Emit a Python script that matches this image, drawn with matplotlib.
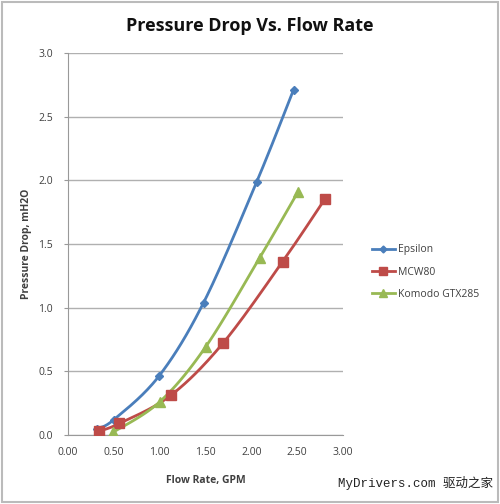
import numpy as np
import matplotlib
matplotlib.use("Agg")
import matplotlib.pyplot as plt
from matplotlib.patches import Rectangle

plt.rcParams['font.family'] = ['Open Sans', 'DejaVu Sans']

# data
epsilon_x = [0.32, 0.50, 0.99, 1.48, 2.06, 2.46]
epsilon_y = [0.05, 0.12, 0.46, 1.04, 1.99, 2.71]
mcw80_x = [0.34, 0.56, 1.12, 1.69, 2.34, 2.80]
mcw80_y = [0.03, 0.09, 0.31, 0.72, 1.36, 1.85]
komodo_x = [0.49, 1.00, 1.50, 2.09, 2.51]
komodo_y = [0.02, 0.26, 0.69, 1.39, 1.91]

series_names = ["Epsilon", "MCW80", "Komodo GTX285"]
x_ticks = [0.0, 0.5, 1.0, 1.5, 2.0, 2.5, 3.0]
y_ticks = [0.0, 0.5, 1.0, 1.5, 2.0, 2.5, 3.0]


# Excel-style smoothed line (Catmull-Rom through the points)
def smooth(xs, ys, n=30):
    p = np.column_stack([xs, ys])
    p = np.vstack([p[0], p, p[-1]])
    out = []
    for i in range(1, len(p) - 2):
        p0, p1, p2, p3 = p[i - 1], p[i], p[i + 1], p[i + 2]
        t = np.linspace(0, 1, n)[:, None]
        c = 0.5 * ((2 * p1) + (-p0 + p2) * t + (2 * p0 - 5 * p1 + 4 * p2 - p3) * t**2
                   + (-p0 + 3 * p1 - 3 * p2 + p3) * t**3)
        out.append(c)
    c = np.vstack(out)
    return c[:, 0], c[:, 1]


fig = plt.figure(figsize=(5, 5.04), dpi=100)
ax = fig.add_axes([0.136, 0.137, 0.55, 0.758])

colors = ["#4A7EBB", "#BE4B48", "#98B954"]
markers = ["D", "s", "^"]
msizes = [4.5, 6.5, 6.5]
data = [(epsilon_x, epsilon_y), (mcw80_x, mcw80_y), (komodo_x, komodo_y)]

for (xs, ys), name, col, mk, ms in zip(data, series_names, colors, markers, msizes):
    sx, sy = smooth(xs, ys)
    ax.plot(sx, sy, color=col, lw=2.0, zorder=3)
    ax.plot(xs, ys, ls="none", marker=mk, ms=ms, color=col, zorder=4)
    ax.plot([], [], color=col, lw=2.0, marker=mk, ms=ms - 1, label=name)

ax.set_xlim(0, 3)
ax.set_ylim(0, 3)
ax.set_xticks(x_ticks)
ax.set_xticklabels(["%.2f" % v for v in x_ticks])
ax.set_yticks(y_ticks)
ax.set_yticklabels(["%.1f" % v for v in y_ticks])
ax.grid(axis="y", color="#B0B0B0", lw=1.0)
ax.set_axisbelow(True)
for s in ["top", "right"]:
    ax.spines[s].set_visible(False)
for s in ["left", "bottom"]:
    ax.spines[s].set_color("#999999")
ax.tick_params(axis="both", labelsize=7.5, colors="#404040", length=3, color="#999999")
ax.tick_params(axis="x", length=0, pad=9)
ax.tick_params(axis="y", pad=8)

ax.set_xlabel("Flow Rate, GPM", fontsize=7.5, fontweight="bold", color="#404040", labelpad=12)
ax.set_ylabel("Pressure Drop, mH2O", fontsize=7.5, fontweight="bold", color="#404040", labelpad=4)

fig.text(0.5, 0.948, "Pressure Drop Vs. Flow Rate", ha="center", va="center",
         fontsize=13, fontweight="bold", color="#111111")

fig.legend(loc="center left", bbox_to_anchor=(0.725, 0.46), frameon=False,
           fontsize=7.5, handlelength=2.2, labelspacing=1.1, handletextpad=0.3,
           labelcolor="#404040")

fig.text(0.985, 0.042, "MyDrivers.com 驱动之家", ha="right", va="center", fontsize=9,
         family=["Liberation Mono", "Noto Sans CJK SC"], color="#222222")

fig.patches.append(Rectangle((0.004, 0.004), 0.992, 0.992, transform=fig.transFigure,
                             fill=False, ec="#BBBBBB", lw=1.5))

fig.savefig("out.png", dpi=100)
